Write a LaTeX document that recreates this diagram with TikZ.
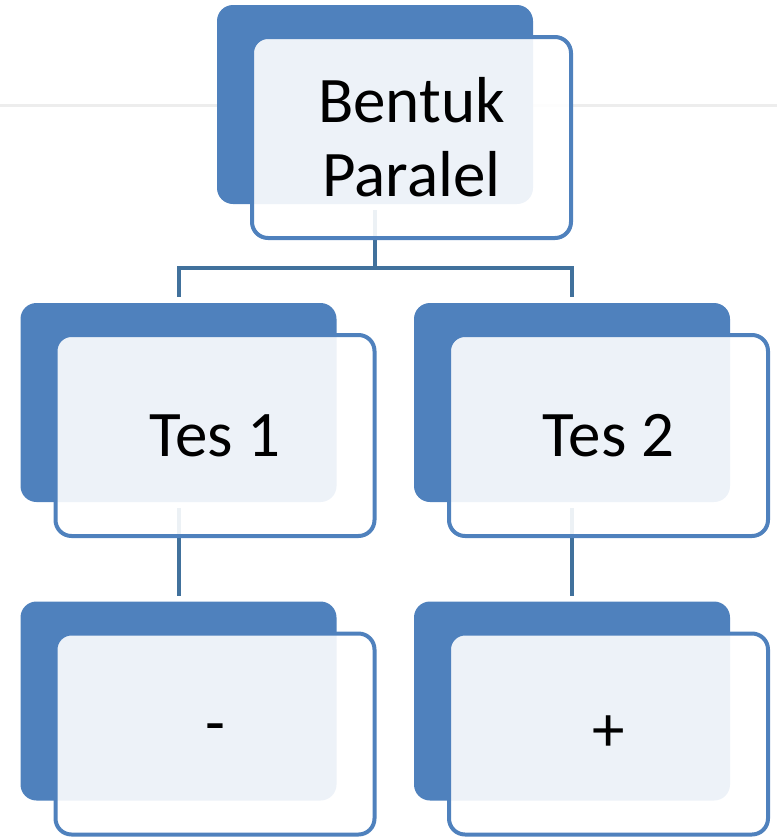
\documentclass[tikz,border=0pt]{standalone}
\usepackage{fontspec}
\setmainfont{Carlito}
\usetikzlibrary{positioning, backgrounds}
\definecolor{boxblue}{HTML}{4F81BD}
\definecolor{linkblue}{HTML}{41719C}
\definecolor{guidegray}{HTML}{EDEDED}
\tikzstyle{back} = [rectangle, rounded corners=16pt, fill=boxblue, minimum width=316pt,
 minimum height=199pt, outer sep=0pt, inner sep=0pt]
\tikzstyle{front} = [rectangle, rounded corners=16pt, draw=boxblue, line width=4pt,
 fill=white, fill opacity=0.9, text opacity=1, minimum width=319pt, minimum height=201pt,
 anchor=north west, align=center, font=\fontsize{65}{74}\selectfont]
\tikzstyle{link} = [draw=linkblue, line width=4pt, shorten <=6pt, shorten >=6pt]
\NewDocumentCommand\StackedBox{m m m}{%
    \node (#1back) [back] at (#2) {};
    \node (#1) [front, below right=30pt and 33pt of #1back.north west] {#3};
}
\begin{document}
\begin{tikzpicture}[x=1pt, y=-1pt]
\useasboundingbox (0,0) rectangle (777,838);

\StackedBox{TOP}{375,104.5}{Bentuk\\Paralel}

\StackedBox{TES1}{178.5,402.5}{Tes 1}
\StackedBox{TES2}{572,402.5}{Tes 2}

\StackedBox{MINUS}{178.5,701}{-}
\StackedBox{PLUS}{572,701}{+}

% Lines
\begin{scope}[on background layer]
\draw[guidegray, line width=3pt] (0,105) -- (777,105);
\coordinate (BRANCH) at (375,268);
\draw[link, shorten >=0pt] (TOPback.south) -- (BRANCH);
\draw[link, shorten <=0pt] (BRANCH) -| (TES1back.north);
\draw[link, shorten <=0pt] (BRANCH) -| (TES2back.north);
\draw[link] (TES1back.south) -- (MINUSback.north);
\draw[link] (TES2back.south) -- (PLUSback.north);
\end{scope}

\end{tikzpicture}
\end{document}
